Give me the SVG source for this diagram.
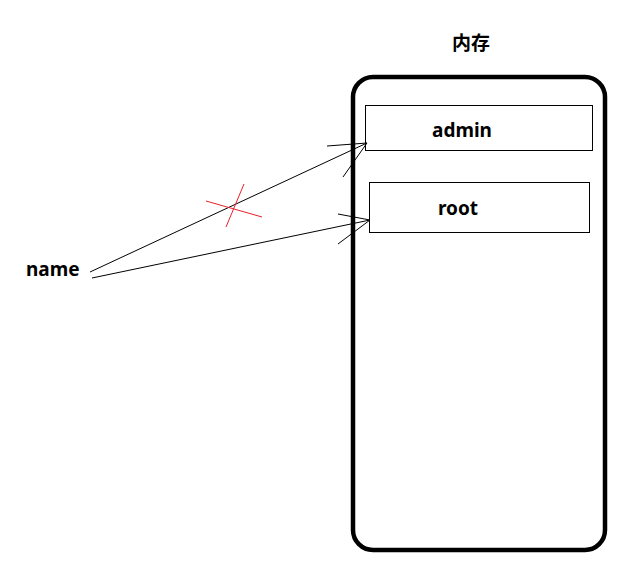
<svg xmlns="http://www.w3.org/2000/svg" width="637" height="579" viewBox="0 0 637 579">
<style>
.t{font-family:"Noto Sans","Noto Sans CJK SC",sans-serif;font-weight:bold;font-size:19px;fill:#000}
.box{fill:#fff;stroke:#000;stroke-width:1}
.c{stroke:#000;stroke-width:1;fill:none}
.x{stroke:#e8202a;stroke-width:1;fill:none}
</style>
<rect width="637" height="579" fill="#fff"/>
<g id="memory">
<rect x="353" y="77" width="252" height="473" rx="20" fill="none" stroke="#000" stroke-width="4.5"/>
<text class="t" x="471" y="50" text-anchor="middle">内存</text>
</g>
<g id="admin">
<rect class="box" x="365.5" y="105.5" width="227" height="45"/>
<text class="t" x="462" y="137" text-anchor="middle">admin</text>
</g>
<g id="root">
<rect class="box" x="369.5" y="182.5" width="220" height="50"/>
<text class="t" x="458" y="215" text-anchor="middle">root</text>
</g>
<g id="name">
<text class="t" x="26" y="276">name</text>
</g>
<g id="connectors">
<path class="c" d="M90 272 L367 143 M327 146 L367 143 L343 177"/>
<path class="c" d="M92 278 L370 220 M338 214 L370 220 L338 244"/>
<path class="x" d="M206 201 L262 217 M244 184 L226 227"/>
</g>
</svg>
